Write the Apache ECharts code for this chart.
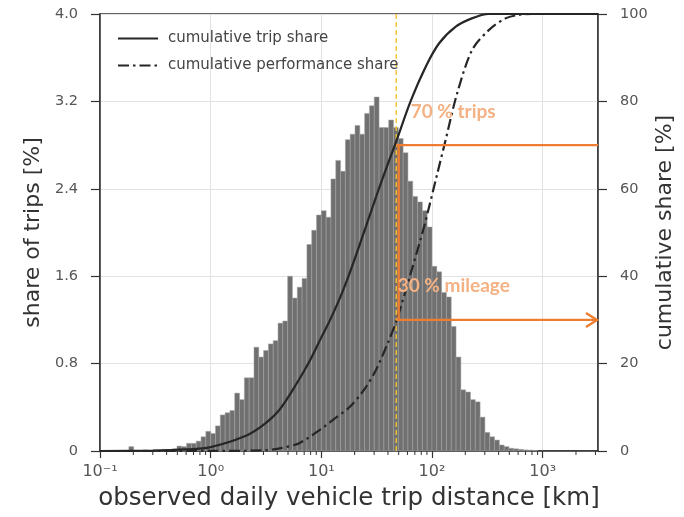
<!DOCTYPE html>
<html>
<head>
<meta charset="utf-8">
<title>Daily vehicle trip distance</title>
<script src="https://cdn.jsdelivr.net/npm/echarts@6/dist/echarts.min.js"></script>
<style>
  html, body { margin: 0; padding: 0; background: #fff; }
  #chart { width: 684px; height: 517px; }
</style>
</head>
<body>
<div id="chart"></div>
<script>
// Histogram bins: equal widths on a log10 scale, starting at 0.1 km
const binsPerDecade = 23;
const firstBinLog10 = -1;
// Share of trips per bin [%]
const tripShare = [
  0, 0, 0, 0, 0, 0, 0.04, 0, 0, 0.01,
  0, 0.01, 0.01, 0.015, 0.01, 0.02, 0.045, 0.04, 0.07, 0.07,
  0.09, 0.13, 0.18, 0.16, 0.23, 0.33, 0.35, 0.37, 0.53, 0.47,
  0.67, 0.67, 0.95, 0.86, 0.92, 0.98, 1.01, 1.17, 1.19, 1.6,
  1.4, 1.5, 1.58, 1.89, 2.02, 2.16, 2.2, 2.14, 2.49, 2.66,
  2.56, 2.85, 2.9, 2.98, 2.9, 3.09, 3.16, 3.24, 2.96, 2.96,
  3.03, 2.96, 2.86, 2.73, 2.47, 2.33, 2.28, 2.2, 2.05, 1.69,
  1.64, 1.45, 1.41, 1.14, 0.86, 0.56, 0.54, 0.47, 0.45, 0.31,
  0.17, 0.13, 0.1, 0.055, 0.04, 0.025, 0.02, 0.015, 0.01, 0.008,
  0.005
];

// Cumulative trip share [%] over distance [km]
const tripCumKm  = [0.1, 0.3, 0.6, 1, 2, 3, 4.2, 6, 8, 10, 12, 15, 18.5, 25, 33, 41, 47, 64, 88, 116, 164, 229, 326, 500, 3162];
const tripCumPct = [0, 0.1, 0.35, 0.9, 3.3, 6, 9.5, 15.5, 21, 26, 30, 35.5, 41.5, 51, 59.9, 66.5, 70.5, 80, 88, 93.3, 97.1, 99, 100, 100, 100];

// Cumulative performance (mileage) share [%] over distance [km]
const perfCumKm  = [0.1, 1, 3, 4.2, 6.3, 9.9, 13, 17.9, 24, 31.1, 40, 48, 64.3, 84.7, 111.7, 132.8, 169, 230.7, 326, 461, 608, 800, 3162];
const perfCumPct = [0, 0.02, 0.15, 0.6, 1.8, 5, 7.3, 10, 13.8, 18.5, 24.8, 30, 40.7, 51.3, 63.5, 71.2, 81.9, 91.8, 96.3, 99, 99.8, 100, 100];

// Annotation: distance marker and the shares it splits off
const markerKm = 47.5;
const bracketKm = 50;
const tripMarkPct = 70;
const mileageMarkPct = 30;
const tripMarkLabel = '70 % trips';
const mileageMarkLabel = '30 % mileage';

// Axis ranges and tick labels
const xMin = 0.1;
const xMax = 3162.28;
const xTickLabels = { '-1': '10⁻¹', '0': '10⁰', '1': '10¹', '2': '10²', '3': '10³' };
const leftTicks = [0, 0.8, 1.6, 2.4, 3.2, 4.0];
const rightTicks = [0, 20, 40, 60, 80, 100];

const histData = tripShare.map((h, i) => [
  Math.pow(10, firstBinLog10 + i / binsPerDecade),
  Math.pow(10, firstBinLog10 + (i + 1) / binsPerDecade),
  h
]);

// Minor ticks at 2..9 within every decade
const minorTicks = [];
for (let d = -1; d <= 3; d++) {
  for (let m = 2; m <= 9; m++) {
    const v = m * Math.pow(10, d);
    if (v < xMax) minorTicks.push([v, 0]);
  }
}

const font = 'DejaVu Sans';
const axisColor = '#333';
const labelColor = '#555';
const gridColor = '#e2e2e2';
const orange = '#ed7d31';
const orangeText = '#f4b183';

const chart = echarts.init(document.getElementById('chart'), null, { renderer: 'canvas' });

chart.setOption({
  animation: false,
  textStyle: { fontFamily: font },
  grid: {
    left: 100, right: 86, top: 14, bottom: 66,
    outerBoundsMode: 'none',
    containLabel: false,
    show: true, borderColor: axisColor, borderWidth: 1.5, backgroundColor: '#fff'
  },
  legend: {
    left: 112, top: 26, orient: 'vertical',
    itemWidth: 40, itemHeight: 12, itemGap: 12,
    itemStyle: { opacity: 0 },
    textStyle: { fontSize: 15, color: '#444', fontFamily: font, padding: [0, 0, 0, 5] },
    data: ['cumulative trip share', 'cumulative performance share']
  },
  xAxis: {
    type: 'log', logBase: 10, min: xMin, max: xMax,
    axisLine: { show: true, onZero: false, lineStyle: { color: axisColor, width: 1.5 } },
    axisTick: { show: true, length: 7, lineStyle: { color: axisColor, width: 1.2 } },
    axisLabel: {
      color: labelColor, fontSize: 16, margin: 13, fontFamily: font,
      showMaxLabel: false,
      formatter: v => {
        const e = Math.log10(v);
        const r = Math.round(e);
        if (Math.abs(e - r) > 1e-6) return '';
        return xTickLabels[String(r)] || '';
      }
    },
    splitLine: { show: true, lineStyle: { color: gridColor, width: 1 } },
    name: 'observed daily vehicle trip distance [km]',
    nameLocation: 'middle', nameGap: 35,
    nameTextStyle: { fontSize: 24.5, color: axisColor, fontFamily: font }
  },
  yAxis: [
    {
      type: 'value', min: leftTicks[0], max: leftTicks[leftTicks.length - 1], interval: leftTicks[1] - leftTicks[0],
      position: 'left',
      axisLine: { show: true, lineStyle: { color: axisColor, width: 1.5 } },
      axisTick: { show: true, length: 9, lineStyle: { color: axisColor, width: 1.2 } },
      axisLabel: {
        color: labelColor, fontSize: 14.5, margin: 22, fontFamily: font,
        formatter: v => (v === 0 ? '0' : v.toFixed(1))
      },
      splitLine: { show: true, lineStyle: { color: gridColor, width: 1 } },
      name: 'share of trips [%]', nameLocation: 'middle', nameGap: 54,
      nameTextStyle: { fontSize: 22, color: axisColor, fontFamily: font }
    },
    {
      type: 'value', min: rightTicks[0], max: rightTicks[rightTicks.length - 1], interval: rightTicks[1] - rightTicks[0],
      position: 'right',
      axisLine: { show: true, lineStyle: { color: axisColor, width: 1.5 } },
      axisTick: { show: true, length: 9, lineStyle: { color: axisColor, width: 1.2 } },
      axisLabel: { color: labelColor, fontSize: 14.5, margin: 22, fontFamily: font },
      splitLine: { show: false },
      name: 'cumulative share [%]', nameLocation: 'middle', nameGap: 56, nameRotate: 90,
      nameMoveOverlap: false,
      nameTextStyle: { fontSize: 22, color: axisColor, fontFamily: font }
    }
  ],
  series: [
    {
      name: 'histogram',
      type: 'custom',
      xAxisIndex: 0, yAxisIndex: 0,
      clip: true,
      encode: { x: [0, 1], y: 2 },
      data: histData,
      z: 1,
      renderItem: (params, api) => {
        const a = api.coord([api.value(0), api.value(2)]);
        const b = api.coord([api.value(1), 0]);
        return {
          type: 'rect',
          shape: { x: a[0], y: a[1], width: b[0] - a[0], height: b[1] - a[1] },
          style: { fill: '#707070', stroke: '#a4a4a4', lineWidth: 0.5 }
        };
      }
    },
    {
      name: 'minor ticks',
      type: 'custom',
      xAxisIndex: 0, yAxisIndex: 0,
      clip: false,
      silent: true,
      encode: { x: 0, y: 1 },
      data: minorTicks,
      z: 5,
      renderItem: (params, api) => {
        const p = api.coord([api.value(0), 0]);
        return {
          type: 'line',
          shape: { x1: p[0], y1: p[1], x2: p[0], y2: p[1] + 4 },
          style: { stroke: axisColor, lineWidth: 1 }
        };
      }
    },
    {
      name: 'marker',
      type: 'line',
      xAxisIndex: 0, yAxisIndex: 0,
      data: [[markerKm, leftTicks[0]], [markerKm, leftTicks[leftTicks.length - 1]]],
      symbol: 'none',
      z: 3,
      lineStyle: { color: '#f2c230', width: 1.4, type: [5, 3] }
    },
    {
      name: 'cumulative trip share',
      type: 'line',
      xAxisIndex: 0, yAxisIndex: 1,
      data: tripCumKm.map((k, i) => [k, tripCumPct[i]]),
      smooth: 0.3,
      symbol: 'none',
      z: 4,
      color: '#262626',
      lineStyle: { color: '#262626', width: 2.2, type: 'solid' }
    },
    {
      name: 'cumulative performance share',
      type: 'line',
      xAxisIndex: 0, yAxisIndex: 1,
      data: perfCumKm.map((k, i) => [k, perfCumPct[i]]),
      smooth: 0.3,
      symbol: 'none',
      z: 4,
      color: '#262626',
      lineStyle: { color: '#262626', width: 2.2, type: [11, 4, 2.5, 4] }
    },
    {
      name: 'shares annotation',
      type: 'custom',
      xAxisIndex: 0, yAxisIndex: 1,
      clip: false,
      silent: true,
      encode: { x: 0, y: 1 },
      data: [[bracketKm, tripMarkPct]],
      z: 6,
      renderItem: (params, api) => {
        const topStart = api.coord([markerKm, tripMarkPct]);
        const topEnd = api.coord([xMax, tripMarkPct]);
        const vTop = api.coord([bracketKm, tripMarkPct]);
        const vBot = api.coord([bracketKm, mileageMarkPct]);
        const arrStart = api.coord([markerKm, mileageMarkPct]);
        const arrEnd = api.coord([xMax, mileageMarkPct]);
        const tip = [arrEnd[0] - 1, arrEnd[1]];
        const lineStyle = { stroke: orange, lineWidth: 2.4, lineCap: 'butt' };
        return {
          type: 'group',
          children: [
            { type: 'line', shape: { x1: topStart[0], y1: topStart[1], x2: topEnd[0], y2: topEnd[1] }, style: lineStyle },
            { type: 'line', shape: { x1: vTop[0], y1: vTop[1], x2: vBot[0], y2: vBot[1] }, style: lineStyle },
            { type: 'line', shape: { x1: arrStart[0], y1: arrStart[1], x2: tip[0], y2: tip[1] }, style: lineStyle },
            {
              type: 'polyline',
              shape: { points: [[tip[0] - 11, tip[1] - 7], tip, [tip[0] - 11, tip[1] + 7]] },
              style: { stroke: orange, lineWidth: 2.4, fill: null, lineJoin: 'miter' }
            },
            {
              type: 'text',
              x: vTop[0] + 12, y: vTop[1] - 33,
              style: {
                text: tripMarkLabel, fill: orangeText,
                font: 'bold 19px Lato', align: 'left', verticalAlign: 'middle'
              }
            },
            {
              type: 'text',
              x: vBot[0] - 1, y: vBot[1] - 34,
              style: {
                text: mileageMarkLabel, fill: orangeText,
                font: 'bold 19px Lato', align: 'left', verticalAlign: 'middle'
              }
            }
          ]
        };
      }
    }
  ]
});
</script>
</body>
</html>
